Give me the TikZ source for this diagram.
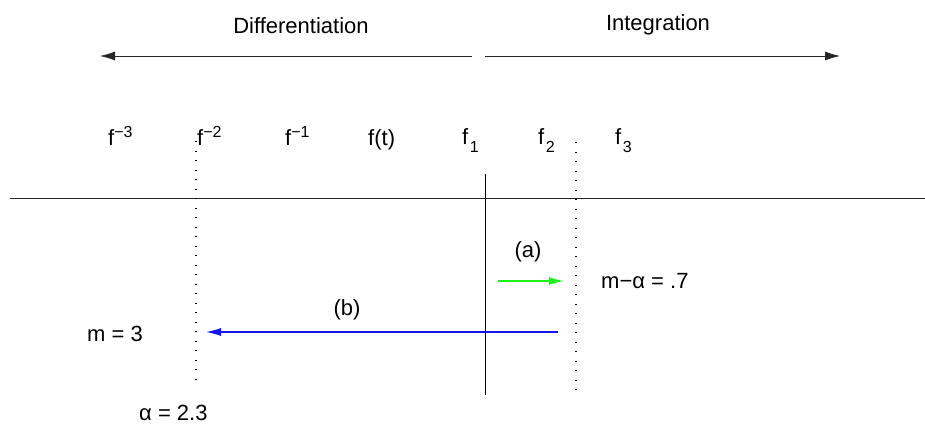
\documentclass[tikz,border=0pt]{standalone}
\usepackage{fontspec}
\setmainfont{Liberation Sans}
\usetikzlibrary{arrows.meta}
\begin{document}
\begin{tikzpicture}[x=1pt,y=-1pt,
  lbl/.style={inner sep=0pt,font=\fontsize{22}{24}\selectfont},
  axisline/.style={line width=0.8pt,draw=black!85},
  dotline/.style={line width=1.2pt,dash pattern=on 0.9pt off 8.6pt},
  bigtip/.style={-{Latex[length=15pt,width=9pt]}}
]
\useasboundingbox (0,0) rectangle (925,423);
\newcommand{\supx}[1]{\raisebox{8pt}{\fontsize{16}{14}\selectfont #1}}
\newcommand{\subx}[1]{\hspace{1.5pt}\raisebox{-8pt}{\fontsize{16}{14}\selectfont #1}}
% titles
\node[lbl] (diff) at (301,26) {Differentiation};
\node[lbl] (integ) at (658,25) {Integration};
\coordinate (dl0) at (472,56); \coordinate (dl1) at (100,56);
\coordinate (il0) at (485,56); \coordinate (il1) at (840,56);
\draw[axisline,bigtip] (dl0) -- (dl1);
\draw[axisline,bigtip] (il0) -- (il1);
% function labels
\node[lbl,anchor=base west] (fm3) at (108,145) {f\supx{−3}};
\node[lbl,anchor=base west] (fm2) at (197,145) {f\supx{−2}};
\node[lbl,anchor=base west] (fm1) at (285,145) {f\supx{−1}};
\node[lbl,anchor=base west] (ft) at (368,145) {f(t)};
\node[lbl,anchor=base west] (f1) at (462,144) {f\subx{1}};
\node[lbl,anchor=base west] (f2) at (538,144) {f\subx{2}};
\node[lbl,anchor=base west] (f3) at (615,144) {f\subx{3}};
% horizontal axis
\coordinate (h0) at (10,198); \coordinate (h1) at (925,198);
\draw[axisline] (h0) -- (h1);
% vertical lines
\coordinate (v0) at (485,174); \coordinate (v1) at (485,395);
\draw[line width=0.9pt] (v0) -- (v1);
\coordinate (dA0) at (196,141); \coordinate (dA1) at (196,385);
\draw[dotline] (dA0) -- (dA1);
\coordinate (dB0) at (576,142); \coordinate (dB1) at (576,396);
\draw[dotline] (dB0) -- (dB1);
% (a)
\node[lbl] (la) at (528,252) {(a)};
\coordinate (a0) at (498,281); \coordinate (a1) at (564,281);
\draw[line width=1.4pt,draw={rgb,255:red,30;green,240;blue,30},-{Latex[length=15pt,width=8pt]}] (a0) -- (a1);
\node[lbl,anchor=west] (ma) at (601,281) {m−α = .7};
% (b)
\node[lbl] (lb) at (347,310) {(b)};
\coordinate (b0) at (558,332); \coordinate (b1) at (206,332);
\draw[line width=1.1pt,draw={rgb,255:red,20;green,20;blue,240},-{Latex[length=15pt,width=8pt]}] (b0) -- (b1);
\node[lbl,anchor=west] (m3) at (87,334) {m = 3};
\node[lbl,anchor=base west] (al) at (139,420) {α = 2.3};
\end{tikzpicture}
\end{document}
